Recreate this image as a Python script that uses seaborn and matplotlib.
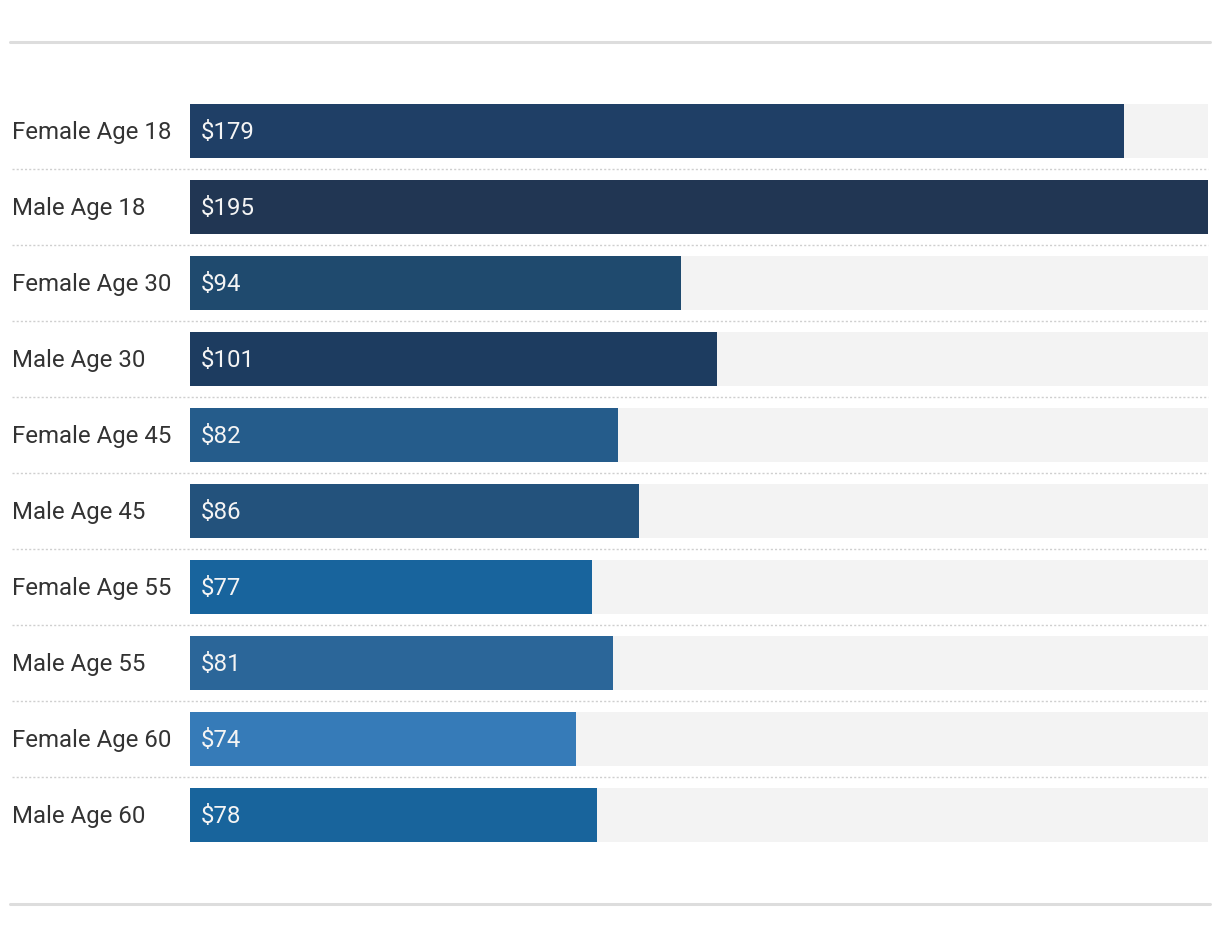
import matplotlib
matplotlib.use('Agg')
import matplotlib.pyplot as plt
from matplotlib.lines import Line2D
import seaborn as sns

# data
labels = ['Female Age 18', 'Male Age 18', 'Female Age 30', 'Male Age 30',
          'Female Age 45', 'Male Age 45', 'Female Age 55', 'Male Age 55',
          'Female Age 60', 'Male Age 60']
values = [179, 195, 94, 101, 82, 86, 77, 81, 74, 78]
bar_colors = ['#1f3f66', '#213653', '#1f4a6e', '#1d3c60', '#255c8b',
              '#23527c', '#18649d', '#2b6699', '#367bb8', '#18649c']

sns.set_style('white')
plt.rcParams['font.family'] = ['Roboto', 'DejaVu Sans']

fig = plt.figure(figsize=(12.2, 9.36), dpi=100)
ax = fig.add_axes([190 / 1220, 83 / 936, 1018 / 1220, 760 / 936])

# gray tracks behind each bar
track = [max(values)] * len(values)
sns.barplot(x=track, y=labels, color='#f3f3f3', width=0.71, orient='h',
            ax=ax, saturation=1, linewidth=0)
sns.barplot(x=values, y=labels, hue=labels, palette=bar_colors, width=0.71,
            orient='h', ax=ax, legend=False, saturation=1, linewidth=0)

ax.set_xlim(0, max(values))
ax.set_ylim(len(labels) - 0.5, -0.5)
ax.set_xlabel('')
ax.set_ylabel('')
ax.set_xticks([])
ax.set_yticks([])
for s in ax.spines.values():
    s.set_visible(False)

# category labels and values
for i, (lab, v) in enumerate(zip(labels, values)):
    ax.text(-178 / 1018, i + 0.02, lab, transform=ax.get_yaxis_transform(),
            ha='left', va='center', fontsize=17.3, color='#333333')
    ax.text(11 / 1018, i + 0.02, f'${v}', transform=ax.get_yaxis_transform(),
            ha='left', va='center', fontsize=17.3, color='#f4f4f4')

# dotted separators between rows
for i in range(len(labels) - 1):
    ax.plot([-178 / 1018, 1], [i + 0.5, i + 0.5], transform=ax.get_yaxis_transform(),
            color='#cfcfcf', lw=1.0, ls=(0, (1.5, 1.5)), clip_on=False)

# top and bottom rules
for yy in [1 - 42 / 936, 1 - 904 / 936]:
    fig.add_artist(Line2D([10 / 1220, 1210 / 1220], [yy, yy], color='#dddddd', lw=2.2))

fig.savefig('out.png', dpi=100, facecolor='white')
